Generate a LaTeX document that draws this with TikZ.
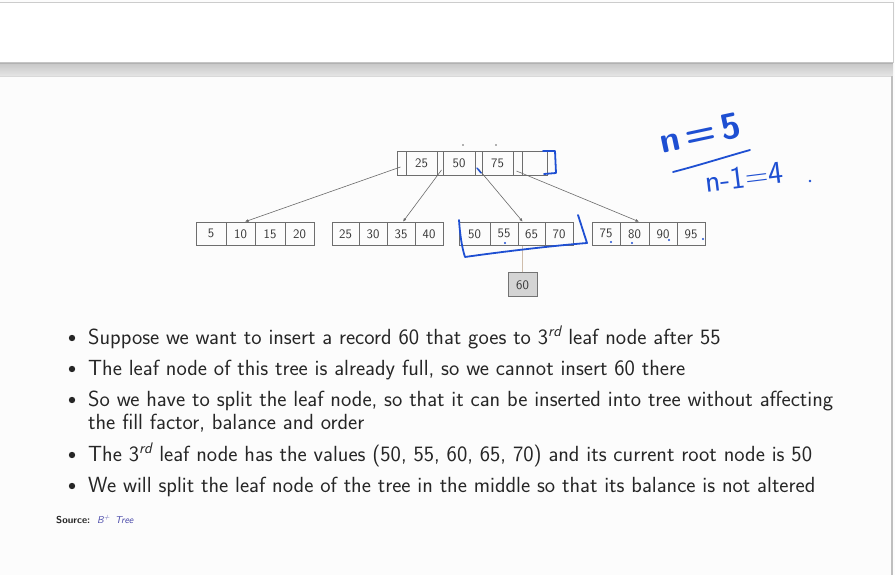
\documentclass[tikz,border=0pt]{standalone}
\usepackage{fontspec}
\usetikzlibrary{arrows.meta,calc}
\definecolor{cellline}{HTML}{6E6E6E}
\definecolor{celltext}{HTML}{363636}
\definecolor{conncol}{HTML}{6A6A6A}
\definecolor{pen}{HTML}{1E4FD2}
\definecolor{bodytext}{HTML}{262626}
\definecolor{linkcol}{HTML}{4B4BAA}
\begin{document}
\begin{tikzpicture}[x=1pt,y=-1pt,
  cell/.style={draw=cellline, line width=0.6pt, minimum height=24pt, inner sep=0pt,
    font=\sffamily\fontsize{13}{13}\selectfont, text=celltext},
  leaf/.style={cell, minimum height=23.5pt},
  conn/.style={draw=conncol, line width=0.6pt, -{Latex[length=3.5pt,width=3pt]}},
  penline/.style={draw=pen, line width=1.8pt, line cap=round, line join=round},
  bul/.style={anchor=base west, inner sep=0pt, text=bodytext,
    font=\sffamily\fontsize{21.9}{24}\selectfont},
  dotb/.style={fill=bodytext, draw=none}]
\useasboundingbox (0,0) rectangle (895,575);
\fill[white!99!black] (0,0) rectangle (895,575);
% window chrome
\fill[white] (0,2) rectangle (893,63);
\draw[black!20, line width=0.8pt] (0,2) -- (893,2) -- (893,63);
\shade[top color=black!22, bottom color=black!10] (0,63) rectangle (893,76);
\draw[black!30, line width=0.6pt] (0,63) -- (893,63);
\draw[black!15, line width=0.6pt] (0,76.5) -- (893,76.5);
\draw[black!25, line width=1.6pt] (892,76) -- (892,575);
% root node
\node[cell, minimum width=9pt]  (p0) at (401.5,163) {};
\node[cell, minimum width=31pt] (k1) at (421.5,163) {25};
\node[cell, minimum width=6pt]  (p1) at (440,163) {};
\node[cell, minimum width=32pt] (k2) at (459,163) {50};
\node[cell, minimum width=7pt]  (p2) at (478.5,163) {};
\node[cell, minimum width=31pt] (k3) at (497.5,163) {75};
\node[cell, minimum width=9pt]  (p3) at (517.5,163) {};
\node[cell, minimum width=25pt] (k4) at (534.5,163) {};
% leaves
\node[leaf, minimum width=30pt] (l1a) at (211,233.75) {5};
\node[leaf, minimum width=29pt] (l1b) at (240.5,233.75) {10};
\node[leaf, minimum width=30pt] (l1c) at (270,233.75) {15};
\node[leaf, minimum width=29pt] (l1d) at (299.5,233.75) {20};
\node[leaf, minimum width=27pt] (l2a) at (345.5,233.75) {25};
\node[leaf, minimum width=28pt] (l2b) at (373,233.75) {30};
\node[leaf, minimum width=28pt] (l2c) at (401,233.75) {35};
\node[leaf, minimum width=28pt] (l2d) at (429,233.75) {40};
\node[leaf, minimum width=31pt] (l3a) at (474.5,233.75) {50};
\node[leaf, minimum width=28pt] (l3b) at (504,233.75) {55};
\node[leaf, minimum width=27pt] (l3c) at (531.5,233.75) {65};
\node[leaf, minimum width=28pt] (l3d) at (559,233.75) {70};
\node[leaf, minimum width=28pt] (l4a) at (606,233.75) {75};
\node[leaf, minimum width=29pt] (l4b) at (634.5,233.75) {80};
\node[leaf, minimum width=28pt] (l4c) at (663,233.75) {90};
\node[leaf, minimum width=28pt] (l4d) at (691,233.75) {95};
% new key
\node[cell, minimum width=29pt, fill=black!17, draw=black!55] (n60) at (522.5,284.75) {60};
\draw[black!30!brown!40, line width=0.6pt] (n60.north) -- (n60.north |- l3c.south);
% connectors
\draw[conn] ($(p0.center)+(-1,4)$) -- ($(l1b.north)+(4.5,0)$);
\draw[conn] ($(p1.center)+(1.5,7)$) -- ($(l2c.north)+(2,0)$);
\draw[conn] ($(p2.center)+(0,6)$) -- ($(l3c.north west)+(5,0)$);
\draw[conn] ($(p3.center)+(-1,8)$) -- ($(l4b.north)+(4.5,0)$);
% small marks above root
\fill[black!60] (463,145) circle (0.9);
\fill[black!60] (496,145) circle (0.9);
% pen annotations
\draw[penline] (543,151) -- (555,151) -- (556,173) -- (544,174);
\draw[penline, line width=1.4pt] (477,168) -- (481,173);
\draw[penline] (459,220) .. controls (460,235) and (462,248) .. (465,257)
  .. controls (500,252) and (550,246) .. (587,243) -- (578,215);
\foreach \p in {(505,243),(611,242),(632,243),(669,240),(703,239)}
  \fill[pen] \p circle (1.1);
\node[text=pen, rotate=12, inner sep=0pt, font=\sffamily\bfseries\fontsize{36}{36}\selectfont] (hn) at (700,133) {n\,=\,5};
\draw[penline] (673,172) .. controls (700,165) and (725,157) .. (750,150);
\node[text=pen, rotate=7, inner sep=0pt, font=\sffamily\fontsize{32}{32}\selectfont] (hm) at (744,177) {n-1=4};
\fill[pen] (810,181) circle (1.3);
% bullets
\foreach \yy in {344,375,406,461,492} \fill[dotb] (72,\yy-6) circle (3.2);
\node[bul] (b1) at (88,344) {Suppose we want to insert a record 60 that goes to 3\textsuperscript{\itshape rd} leaf node after 55};
\node[bul] (b2) at (88,375) {The leaf node of this tree is already full, so we cannot insert 60 there};
\node[bul] (b3) at (88,406) {So we have to split the leaf node, so that it can be inserted into tree without affecting};
\node[bul] (b3b) at (88,429) {the fill factor, balance and order};
\node[bul] (b4) at (88,461) {The 3\textsuperscript{\itshape rd} leaf node has the values (50, 55, 60, 65, 70) and its current root node is 50};
\node[bul] (b5) at (88,492) {We will split the leaf node of the tree in the middle so that its balance is not altered};
% source
\node[anchor=base west, inner sep=0pt, font=\sffamily\bfseries\fontsize{10}{11}\selectfont, text=bodytext] (src) at (56,523) {Source:};
\node[anchor=base west, inner sep=0pt, font=\sffamily\itshape\fontsize{10}{11}\selectfont, text=linkcol] (srcl) at (97,523) {B\textsuperscript{+}\, Tree};
\end{tikzpicture}
\end{document}
